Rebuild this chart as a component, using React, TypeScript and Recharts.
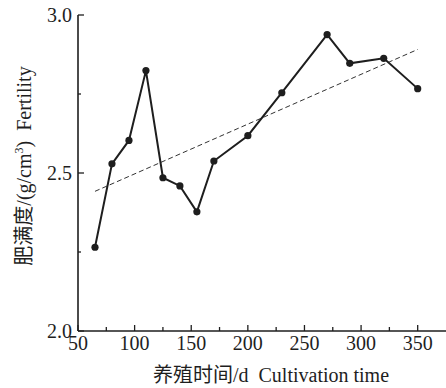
import React from 'react';
import { LineChart, Line, XAxis, YAxis, Label } from 'recharts';

// culture days and measured fertility (g/cm3)
const days = [65, 80, 95, 110, 125, 140, 155, 170, 200, 230, 270, 290, 320, 350];
const fertility = [2.265, 2.529, 2.603, 2.824, 2.485, 2.459, 2.377, 2.538, 2.618, 2.754, 2.938, 2.847, 2.863, 2.767];

// linear trend (dashed)
const trendDays = [65, 350];
const trendFertility = [2.442, 2.891];

const xTicks = [50, 75, 100, 125, 150, 175, 200, 225, 250, 275, 300, 325, 350];
const yTicks = [2.0, 2.25, 2.5, 2.75, 3.0];

const INK = '#1e1e1e';
const FONT = "'Liberation Serif', 'Times New Roman', 'DejaVu Serif', serif, 'Noto Sans CJK SC'";
const txt = { fontFamily: FONT, fontSize: 20, fill: INK };
const titleTxt = { ...txt, whiteSpace: 'pre' as const };

const data = days.map((d, i) => ({ x: d, y: fertility[i] }));
const trendData = trendDays.map((d, i) => ({ x: d, y: trendFertility[i] }));

const XTick = (props: any) => {
    const { x, y, payload } = props;
    const major = payload.value % 50 === 0;
    return (
        <g>
            <line x1={x} x2={x} y1={y} y2={y - (major ? 6 : 4)} stroke={INK} strokeWidth={1.3} />
            {major && (
                <text x={x} y={y + 19} textAnchor="middle" style={txt}>
                    {payload.value}
                </text>
            )}
        </g>
    );
};

const YTick = (props: any) => {
    const { x, y, payload } = props;
    const major = Math.abs((payload.value * 2) % 1) < 1e-6;
    return (
        <g>
            <line x1={x} x2={x + (major ? 6 : 3)} y1={y} y2={y} stroke={INK} strokeWidth={1.3} />
            {major && (
                <text x={x - 6} y={y + 7} textAnchor="end" style={txt}>
                    {payload.value.toFixed(1)}
                </text>
            )}
        </g>
    );
};

const XTitle = (props: any) => {
    const vb = props.viewBox;
    return (
        <text x={vb.x + vb.width / 2 + 9} y={vb.y + 51} textAnchor="middle" style={titleTxt}>
            {'养殖时间/d  Cultivation time'}
        </text>
    );
};

const YTitle = (props: any) => {
    const vb = props.viewBox;
    const cx = vb.x + 31;
    const cy = 166;
    return (
        <text x={cx} y={cy} transform={`rotate(-90 ${cx} ${cy})`} textAnchor="middle" style={titleTxt}>
            肥满度/(g/cm<tspan style={{ fontSize: 12 }} dy={-8}>3</tspan><tspan dy={8}>{')  Fertility'}</tspan>
        </text>
    );
};

export default function App() {
    return (
        <div style={{ position: 'absolute', left: 0, top: 0, background: '#fff' }}>
            <LineChart width={446} height={388} data={data} margin={{ top: 15, right: 0, bottom: 0, left: 0 }}>
                <XAxis
                    dataKey="x"
                    type="number"
                    domain={[50, 375]}
                    ticks={xTicks}
                    interval={0}
                    allowDataOverflow
                    height={57}
                    tickSize={0}
                    tickMargin={0}
                    tickLine={false}
                    tick={<XTick />}
                    axisLine={{ stroke: INK, strokeWidth: 1.6 }}
                >
                    <Label content={<XTitle />} />
                </XAxis>
                <YAxis
                    dataKey="y"
                    type="number"
                    domain={[2, 3]}
                    ticks={yTicks}
                    interval={0}
                    allowDataOverflow
                    width={78}
                    tickSize={0}
                    tickMargin={0}
                    tickLine={false}
                    tick={<YTick />}
                    axisLine={{ stroke: INK, strokeWidth: 1.6 }}
                >
                    <Label content={<YTitle />} />
                </YAxis>
                <Line
                    data={trendData}
                    dataKey="y"
                    type="linear"
                    stroke="#333"
                    strokeWidth={1}
                    strokeDasharray="5 3"
                    dot={false}
                    isAnimationActive={false}
                />
                <Line
                    dataKey="y"
                    type="linear"
                    stroke={INK}
                    strokeWidth={2}
                    dot={{ r: 3.6, fill: INK, stroke: 'none' }}
                    isAnimationActive={false}
                />
            </LineChart>
        </div>
    );
}
